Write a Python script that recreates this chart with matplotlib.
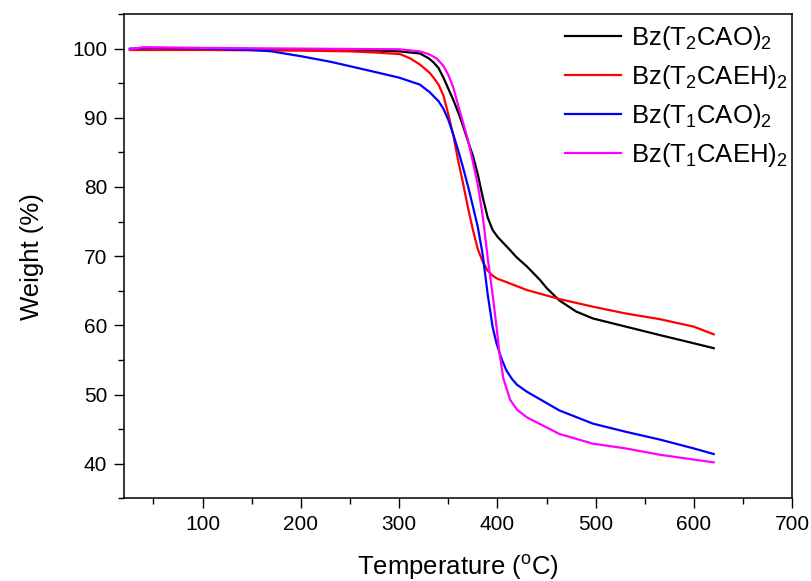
# TGA curves of the four Bz compounds, replotted from read-off values

import numpy as np
import matplotlib
matplotlib.use('Agg')
import matplotlib.pyplot as plt
from matplotlib.ticker import MultipleLocator

plt.rcParams['font.family'] = ['Liberation Sans', 'DejaVu Sans']
plt.rcParams['mathtext.fontset'] = 'custom'
plt.rcParams['mathtext.rm'] = 'Liberation Sans'
plt.rcParams['mathtext.it'] = 'Liberation Sans:italic'

# Bz(T2CAO)2 - black
t_t2cao = [26, 100, 200, 280, 300, 321, 330, 335, 340, 345, 350, 355, 360, 365, 370, 375,
           380, 385, 390, 395, 400, 406, 412, 419, 430, 443, 450, 463, 480, 497, 531, 565, 600, 620]
w_t2cao = [99.9, 99.9, 99.8, 99.7, 99.6, 99.3, 98.6, 98.0, 97.2, 95.8, 94.2, 92.6, 90.8, 88.8, 86.6, 84.5,
           81.8, 78.5, 75.6, 73.8, 72.8, 71.9, 71.0, 69.9, 68.5, 66.6, 65.4, 63.6, 62.0, 61.0, 59.8, 58.6, 57.4, 56.7]

# Bz(T2CAEH)2 - red
t_t2caeh = [26, 100, 200, 250, 280, 301, 311, 321, 331, 335, 340, 345, 350, 355, 360, 365, 370,
            375, 380, 385, 390, 395, 399, 410, 430, 463, 497, 531, 565, 600, 620]
w_t2caeh = [99.8, 99.8, 99.7, 99.6, 99.4, 99.2, 98.6, 97.7, 96.5, 95.8, 94.8, 93.2, 90.5, 87.5, 83.8, 80.5, 77.0,
            73.8, 71.0, 69.2, 67.9, 67.2, 66.8, 66.2, 65.1, 63.8, 62.7, 61.7, 60.9, 59.8, 58.7]

# Bz(T1CAO)2 - blue
t_t1cao = [26, 50, 100, 150, 170, 200, 230, 270, 300, 321, 331, 340, 345, 350, 355, 360, 365, 370,
           375, 380, 385, 390, 395, 399, 404, 409, 415, 420, 430, 463, 497, 531, 565, 600, 620]
w_t1cao = [100.0, 100.1, 100.0, 99.8, 99.6, 98.9, 98.1, 96.8, 95.8, 94.8, 93.7, 92.4, 91.3, 89.7, 87.6, 85.3, 82.8, 80.1,
           77.2, 74.2, 70.2, 64.5, 59.8, 57.4, 55.2, 53.5, 52.2, 51.4, 50.4, 47.7, 45.8, 44.6, 43.5, 42.2, 41.4]

# Bz(T1CAEH)2 - magenta
t_t1caeh = [26, 40, 100, 200, 300, 321, 330, 338, 345, 350, 355, 360, 365, 370, 375, 380, 385,
            390, 395, 399, 402, 406, 413, 420, 430, 463, 497, 531, 565, 600, 620]
w_t1caeh = [99.9, 100.2, 100.1, 100.0, 99.9, 99.6, 99.2, 98.6, 97.5, 96.2, 94.4, 91.8, 89.3, 86.8, 83.6, 80.3, 75.8,
            69.8, 64.5, 59.8, 56.0, 52.3, 49.2, 47.8, 46.7, 44.3, 42.9, 42.2, 41.3, 40.6, 40.2]

labels = [r'Bz(T$_2$CAO)$_2$', r'Bz(T$_2$CAEH)$_2$', r'Bz(T$_1$CAO)$_2$', r'Bz(T$_1$CAEH)$_2$']
colors = ['black', 'red', 'blue', 'magenta']

fig = plt.figure(figsize=(8.11, 5.81), dpi=100)
ax = fig.add_axes([0.1529, 0.1423, 0.8241, 0.8336])

series = [(t_t2cao, w_t2cao), (t_t2caeh, w_t2caeh), (t_t1cao, w_t1cao), (t_t1caeh, w_t1caeh)]
for (t, w), lab, c in zip(series, labels, colors):
    ax.plot(t, w, color=c, lw=1.6, label=lab)

ax.set_xlim(20, 700)
ax.set_ylim(35, 105)
ax.xaxis.set_major_locator(MultipleLocator(100))
ax.xaxis.set_minor_locator(MultipleLocator(50))
ax.yaxis.set_major_locator(MultipleLocator(10))
ax.yaxis.set_minor_locator(MultipleLocator(5))
ax.set_xticks([100, 200, 300, 400, 500, 600, 700])
ax.set_yticks([40, 50, 60, 70, 80, 90, 100])

ax.tick_params(which='both', direction='out', width=1.0, labelsize=15)
ax.tick_params(which='major', length=7, pad=5)
ax.tick_params(which='minor', length=4)
for sp in ax.spines.values():
    sp.set_linewidth(1.1)

ax.set_xlabel(r'Temperature ($^{\rm o}$C)', fontsize=18.5, labelpad=14)
ax.set_ylabel('Weight (%)', fontsize=18.5, labelpad=20)

ax.legend(loc='upper right', bbox_to_anchor=(1.013, 1.005), frameon=False, fontsize=18.5,
          handlelength=2.2, handletextpad=0.4, labelspacing=0.42, borderaxespad=0.1)

fig.savefig('out.png', dpi=100)
